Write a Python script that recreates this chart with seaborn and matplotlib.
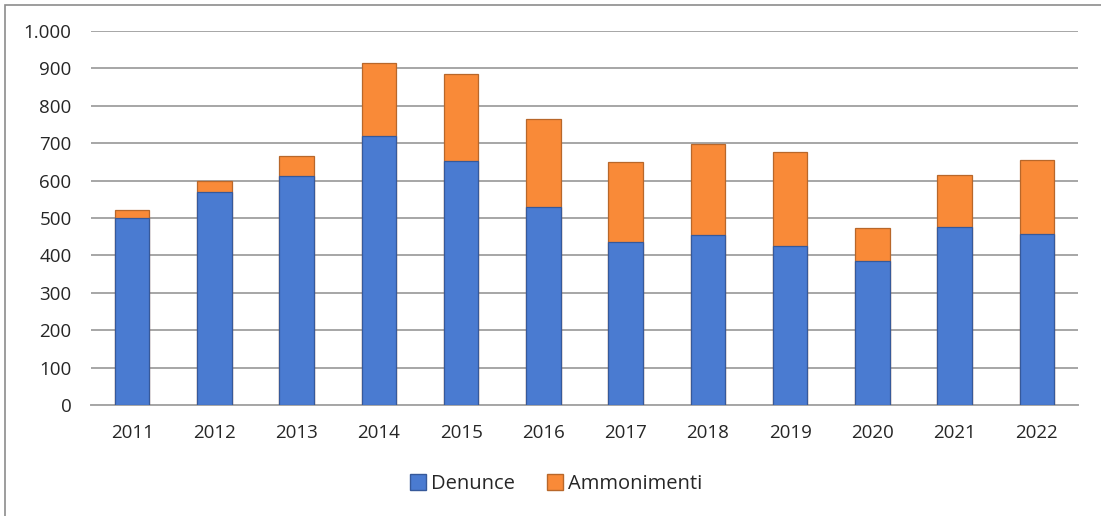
import matplotlib.pyplot as plt
import matplotlib.patches as mpatches
from matplotlib.ticker import FuncFormatter
import pandas as pd
import seaborn as sns

anni = ['2011', '2012', '2013', '2014', '2015', '2016',
        '2017', '2018', '2019', '2020', '2021', '2022']
denunce = [500, 570, 612, 719, 652, 529, 436, 455, 425, 385, 476, 457]
ammonimenti = [21, 29, 54, 195, 233, 236, 214, 243, 252, 88, 139, 198]

df = pd.DataFrame({'anno': anni, 'Denunce': denunce, 'Ammonimenti': ammonimenti})
df['totale'] = df['Denunce'] + df['Ammonimenti']

BLUE = '#4A7BD1'
ORANGE = '#F98A38'

sns.set_style('white')
plt.rcParams['font.family'] = ['Open Sans', 'DejaVu Sans']

fig = plt.figure(figsize=(11.01, 5.16), dpi=100)
ax = fig.add_axes([91 / 1101, 111 / 516, 987 / 1101, 374 / 516])

sns.barplot(data=df, x='anno', y='totale', color=ORANGE, width=0.42,
            saturation=1, edgecolor='#B8672A', linewidth=0.9, ax=ax, zorder=3)
sns.barplot(data=df, x='anno', y='Denunce', color=BLUE, width=0.42,
            saturation=1, edgecolor='#36599A', linewidth=0.9, ax=ax, zorder=4)

ax.set_ylim(0, 1000)
ax.set_xlim(-0.5, len(anni) - 0.5)
ax.set_yticks(range(0, 1001, 100))
ax.yaxis.set_major_formatter(FuncFormatter(lambda v, p: f'{int(v):,}'.replace(',', '.')))
ax.yaxis.grid(True, color='#A6A6A6', linewidth=1.4, zorder=0)
ax.set_axisbelow(True)
ax.set_xlabel('')
ax.set_ylabel('')

for s in ['top', 'right', 'left']:
    ax.spines[s].set_visible(False)
ax.spines['bottom'].set_color('#A6A6A6')
ax.spines['bottom'].set_linewidth(1.4)

# tick marks between categories
ax.set_xticks([i - 0.5 for i in range(len(anni) + 1)], minor=True)
ax.tick_params(axis='x', which='minor', length=6, width=1.4, color='#A6A6A6', direction='out')
ax.tick_params(axis='x', which='major', length=0, pad=14, labelsize=13.5, labelcolor='#262626')
ax.tick_params(axis='y', length=0, pad=14, labelsize=13.5, labelcolor='#262626')

handles = [mpatches.Patch(facecolor=BLUE, edgecolor='#36599A', label='Denunce'),
           mpatches.Patch(facecolor=ORANGE, edgecolor='#B8672A', label='Ammonimenti')]
fig.legend(handles=handles, loc='center', bbox_to_anchor=(0.505, 32 / 516), ncol=2,
           frameon=False, fontsize=14.5, handlelength=0.8, handleheight=0.8,
           handletextpad=0.25, columnspacing=1.6)

# outer frame of the chart area
fig.patches.append(mpatches.Rectangle((5 / 1101, -0.1), 1.2, (511 / 516) + 0.1,
                                      transform=fig.transFigure, fill=False,
                                      edgecolor='#8C8C8C', linewidth=1.2))

fig.savefig('out.png', dpi=100)
